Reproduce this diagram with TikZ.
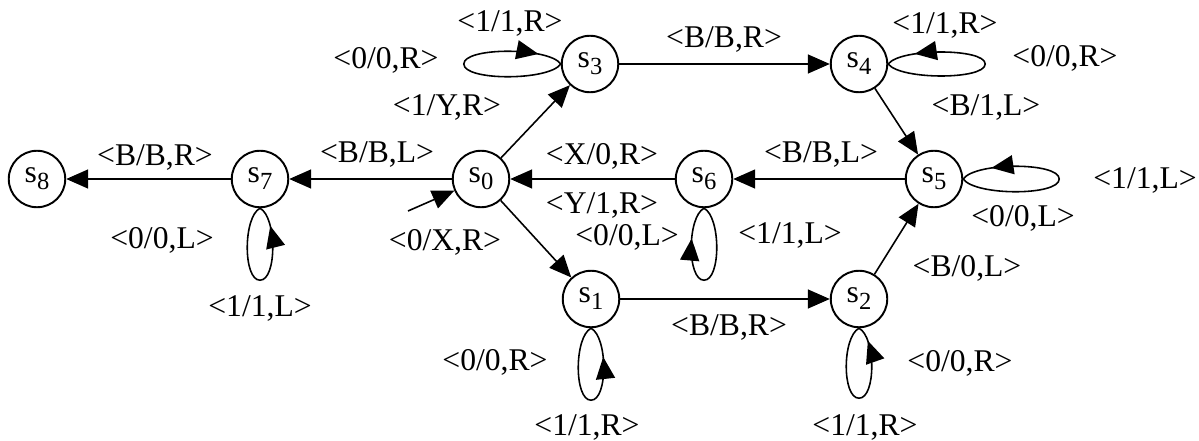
\documentclass[tikz,border=0pt]{standalone}
\usepackage{fontspec}
\setmainfont{Liberation Serif}
\usetikzlibrary{arrows.meta, decorations.markings}

\newcommand{\stname}[1]{s\raisebox{-4pt}{\fontsize{14}{14}\selectfont #1}}

\begin{document}
\begin{tikzpicture}[
    x=0.02cm, y=0.02cm,
    >={Triangle[length=0.44cm, width=0.38cm]},
    font=\fontsize{18}{20}\selectfont,
    statenode/.style={draw, circle, line width=1.1pt, minimum size=1.13cm, inner sep=0pt},
    edgeline/.style={->, line width=0.9pt},
    loopline/.style={line width=0.9pt, postaction={decorate}, decoration={markings, mark=at position #1 with {\arrow{>}}}},
    lbl/.style={inner sep=0pt}
  ]
  \useasboundingbox (0,0) rectangle (1199,440);

  \node (s0) [statenode] at (481,261) {\stname{0}};
  \node (s1) [statenode] at (591,141) {\stname{1}};
  \node (s2) [statenode] at (859,141) {\stname{2}};
  \node (s3) [statenode] at (590,376) {\stname{3}};
  \node (s4) [statenode] at (859,376) {\stname{4}};
  \node (s5) [statenode] at (934,261) {\stname{5}};
  \node (s6) [statenode] at (704,261) {\stname{6}};
  \node (s7) [statenode] at (260,261) {\stname{7}};
  \node (s8) [statenode] at (37,261) {\stname{8}};
  \coordinate (start) at (408,229);

  \draw[edgeline] (start) -- (s0);
  \draw[edgeline] (s0) -- (s3);
  \draw[edgeline] (s3) -- (s4);
  \draw[edgeline] (s4) -- (s5);
  \draw[edgeline] (s5) -- (s6);
  \draw[edgeline] (s6) -- (s0);
  \draw[edgeline] (s0) -- (s7);
  \draw[edgeline] (s7) -- (s8);
  \draw[edgeline] (s0) -- (s1);
  \draw[edgeline] (s1) -- (s2);
  \draw[edgeline] (s2) -- (s5);

  \draw[loopline=0.88] (s3.west) .. controls +(-12,-17) and +(0,-17) .. ++(-97,0) .. controls +(0,17) and +(-12,17) .. (s3.west);
  \draw[loopline=0.86] (s4.east) .. controls +(12,-16) and +(0,-16) .. ++(97,0) .. controls +(0,16) and +(12,16) .. (s4.east);
  \draw[loopline=0.85] (s5.east) .. controls +(12,-17) and +(0,-17) .. ++(96,0) .. controls +(0,17) and +(12,17) .. (s5.east);
  \draw[loopline=0.79] (s6.south) .. controls +(17,-9) and +(17,0) .. ++(0,-72) .. controls +(-17,0) and +(-17,-9) .. (s6.south);
  \draw[loopline=0.87] (s7.south) .. controls +(-17,-9) and +(-17,0) .. ++(0,-72) .. controls +(17,0) and +(17,-9) .. (s7.south);
  \draw[loopline=0.80] (s1.south) .. controls +(-17,-9) and +(-17,0) .. ++(0,-72) .. controls +(17,0) and +(17,-9) .. (s1.south);
  \draw[loopline=0.90] (s2.south) .. controls +(-17,-9) and +(-17,0) .. ++(0,-70) .. controls +(17,0) and +(17,-9) .. (s2.south);

  \node[lbl] (l31) at (510,417) {<1/1,R>};
  \node[lbl] (l30) at (386,380) {<0/0,R>};
  \node[lbl] (l03) at (447,333) {<1/Y,R>};
  \node[lbl] (l07) at (377,285) {<B/B,L>};
  \node[lbl] (l78) at (155,282) {<B/B,R>};
  \node[lbl] (l70) at (162,200) {<0/0,L>};
  \node[lbl] (l71) at (260,132) {<1/1,L>};
  \node[lbl] (l6x) at (602,284) {<X/0,R>};
  \node[lbl] (l6y) at (602,235) {<Y/1,R>};
  \node[lbl] (l01) at (445,198) {<0/X,R>};
  \node[lbl] (l60) at (627,203) {<0/0,L>};
  \node[lbl] (l61) at (790,205) {<1/1,L>};
  \node[lbl] (l34) at (724,400) {<B/B,R>};
  \node[lbl] (l41) at (945,415) {<1/1,R>};
  \node[lbl] (l40) at (1065,382) {<0/0,R>};
  \node[lbl] (l45) at (986,333) {<B/1,L>};
  \node[lbl] (l56) at (821,285) {<B/B,L>};
  \node[lbl] (l51) at (1145,260) {<1/1,L>};
  \node[lbl] (l50) at (1023,222) {<0/0,L>};
  \node[lbl] (l25) at (967,172) {<B/0,L>};
  \node[lbl] (l12) at (729,112) {<B/B,R>};
  \node[lbl] (l10) at (495,78) {<0/0,R>};
  \node[lbl] (l11) at (587,13) {<1/1,R>};
  \node[lbl] (l21) at (865,13) {<1/1,R>};
  \node[lbl] (l20) at (960,77) {<0/0,R>};

\end{tikzpicture}
\end{document}
